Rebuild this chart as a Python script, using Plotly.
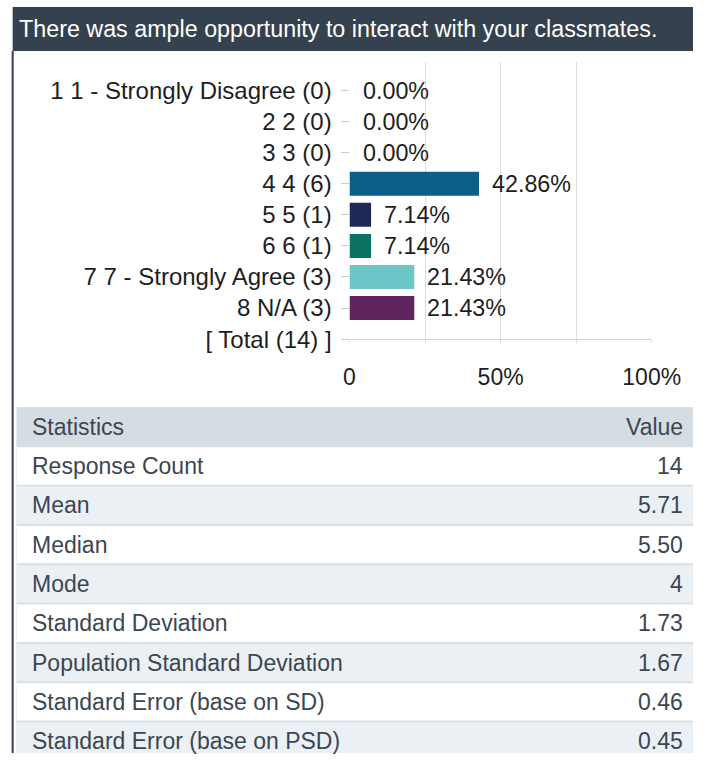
import plotly.graph_objects as go

# ---- survey question data ----
question = "There was ample opportunity to interact with your classmates."
answer_labels = [
    "1 1 - Strongly Disagree (0)",
    "2 2 (0)",
    "3 3 (0)",
    "4 4 (6)",
    "5 5 (1)",
    "6 6 (1)",
    "7 7 - Strongly Agree (3)",
    "8 N/A (3)",
    "[ Total (14) ]",
]
answer_pct = [0.00, 0.00, 0.00, 42.86, 7.14, 7.14, 21.43, 21.43, None]
answer_colors = ["#0a5f86", "#0a5f86", "#0a5f86", "#0a5f86",
                 "#1d2a55", "#0b7262", "#6bc7c5", "#60255f", "#ffffff"]

x_tick_vals = [0, 25, 50, 75, 100]
x_tick_text = ["0", "", "50%", "", "100%"]

# ---- statistics table data ----
table_header = ["Statistics", "Value"]
stat_names = [
    "Response Count",
    "Mean",
    "Median",
    "Mode",
    "Standard Deviation",
    "Population Standard Deviation",
    "Standard Error (base on SD)",
    "Standard Error (base on PSD)",
]
stat_values = ["14", "5.71", "5.50", "4", "1.73", "1.67", "0.46", "0.45"]

# ---- page geometry (pixels) ----
W, H = 722, 766
FONT = "Liberation Sans, Arial, sans-serif"
DARK = "#35414f"
TEXT = "#1e1e1e"
TABLE_TEXT = "#3b4653"
CHART_FS = 23.3
LABEL_FS = 24
TABLE_FS = 23


def px(x):
    return x / W


def py(y):
    return 1 - y / H


fig = go.Figure()

# response bars
fig.add_trace(go.Bar(
    x=answer_pct,
    y=answer_labels,
    orientation="h",
    marker=dict(color=answer_colors, line=dict(width=0)),
    width=0.77,
    hoverinfo="skip",
    xaxis="x", yaxis="y",
))

annotations = []
for lab, v in zip(answer_labels, answer_pct):
    if v is None:
        continue
    annotations.append(dict(
        x=v, y=lab, xref="x", yref="y", text=f"{v:.2f}%",
        showarrow=False, xanchor="left", yanchor="middle", xshift=11,
        font=dict(family=FONT, size=CHART_FS, color=TEXT),
    ))

# statistics table: one full-width bar per row, small gaps act as row rules
rows_text = [table_header] + [[n, v] for n, v in zip(stat_names, stat_values)]
row_fill = ["#d5dde2"] + ["#ffffff" if i % 2 == 0 else "#ebf0f4"
                          for i in range(len(stat_names))]
row_idx = list(range(len(rows_text)))
fig.add_trace(go.Bar(
    x=[1] * len(rows_text),
    y=row_idx,
    base=0,
    orientation="h",
    width=0.95,
    marker=dict(color=row_fill, line=dict(width=0)),
    hoverinfo="skip",
    xaxis="x2", yaxis="y2",
))
for i, (name, val) in enumerate(rows_text):
    annotations.append(dict(
        x=px(25), y=i, xref="paper", yref="y2", text=name, showarrow=False,
        xanchor="left", yanchor="middle",
        font=dict(family=FONT, size=TABLE_FS, color=TABLE_TEXT),
    ))
    annotations.append(dict(
        x=px(714), y=i, xref="paper", yref="y2", text=val, showarrow=False,
        xanchor="right", yanchor="middle",
        font=dict(family=FONT, size=TABLE_FS, color=TABLE_TEXT),
    ))

# question header
annotations.append(dict(
    x=px(12), y=py(30), xref="paper", yref="paper", text=question,
    showarrow=False, xanchor="left", yanchor="middle",
    font=dict(family=FONT, size=23.3, color="#ffffff"),
))

shapes = [
    dict(type="rect", xref="paper", yref="paper",
         x0=px(7), x1=1, y0=py(52), y1=py(7),
         fillcolor=DARK, line=dict(width=0), layer="below"),
    dict(type="line", xref="paper", yref="paper",
         x0=px(7), x1=px(7), y0=py(52), y1=0,
         line=dict(color=DARK, width=2)),
    # rule colour behind the table rows
    dict(type="rect", xref="x2 domain", yref="y2",
         x0=0, x1=1, y0=-0.5, y1=len(rows_text) - 0.5,
         fillcolor="#d9e0e5", line=dict(width=0), layer="below"),
]

fig.update_layout(
    width=W, height=H,
    autosize=False,
    margin=dict(l=0, r=0, t=0, b=0),
    paper_bgcolor="#ffffff",
    plot_bgcolor="rgba(0,0,0,0)",
    showlegend=False,
    font=dict(family=FONT, size=CHART_FS, color=TEXT),
    xaxis=dict(
        domain=[px(361), px(678.6)],
        range=[0, 100],
        tickvals=x_tick_vals, ticktext=x_tick_text,
        showgrid=True, gridcolor="#dedede", gridwidth=1,
        zeroline=False,
        showline=True, linecolor="#d6d6d6", linewidth=1,
        ticks="outside", ticklen=3, tickcolor="#dedede",
        ticklabelstandoff=14,
        tickfont=dict(family=FONT, size=23, color=TEXT),
        fixedrange=True,
        anchor="y",
    ),
    yaxis=dict(
        domain=[py(345), py(63)],
        type="category",
        categoryorder="array", categoryarray=answer_labels,
        range=[8, -0.92],
        showgrid=False, zeroline=False, showline=False,
        ticks="outside", ticklen=8, tickcolor="#cccccc",
        ticklabelstandoff=4,
        tickfont=dict(family=FONT, size=LABEL_FS, color=TEXT),
        fixedrange=True,
        anchor="x",
    ),
    xaxis2=dict(
        domain=[px(11), 1], range=[0, 1], visible=False,
        fixedrange=True, anchor="y2",
    ),
    yaxis2=dict(
        domain=[0, py(414)], range=[8.3, -0.5], visible=False,
        fixedrange=True, anchor="x2",
    ),
    annotations=annotations,
    shapes=shapes,
)

fig.write_html("out.html")
